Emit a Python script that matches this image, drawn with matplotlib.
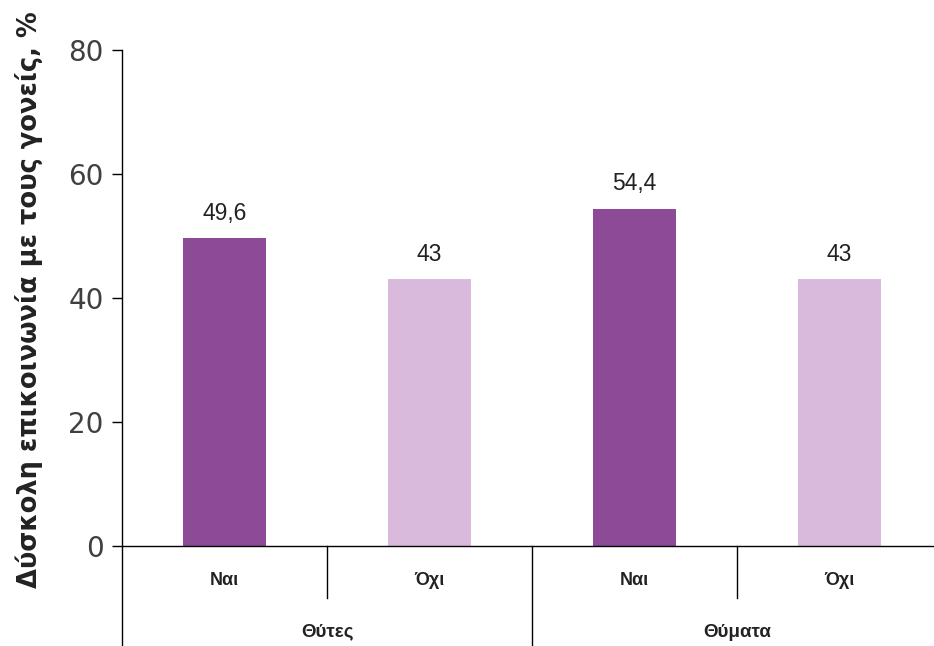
import matplotlib.pyplot as plt

plt.rcParams['font.family'] = ['Liberation Sans', 'DejaVu Sans']

# data
groups = ['Θύτες', 'Θύματα']
answers = ['Ναι', 'Όχι', 'Ναι', 'Όχι']
values = [49.6, 43, 54.4, 43]
value_labels = ['49,6', '43', '54,4', '43']
colors = ['#8C4A97', '#DABADC', '#8C4A97', '#DABADC']

fig = plt.figure(figsize=(9.34, 6.46), dpi=100)
ax = fig.add_axes([122 / 934, 0.0, 1 - 122 / 934, 596 / 646])

x = list(range(len(values)))
ax.bar(x, values, width=0.405, color=colors, zorder=2)

for xi, v, lbl in zip(x, values, value_labels):
    ax.text(xi, v + 4.0, lbl, ha='center', va='center', fontsize=16.5, color='#222222')

ax.set_xlim(-0.5, 3.46)
ax.set_ylim(-16.13, 80)
ax.set_yticks([0, 20, 40, 60, 80])
ax.tick_params(axis='y', direction='out', length=7.2, width=1, labelsize=20,
               labelcolor='#404040', pad=6)
for t in ax.get_yticklabels():
    t.set_family('DejaVu Sans')
ax.set_xticks([])
for s in ['top', 'right', 'bottom']:
    ax.spines[s].set_visible(False)
ax.spines['left'].set_linewidth(1)

# x axis line at 0
ax.axhline(0, color='black', lw=1, zorder=3)

# category separators
ax.plot([0.5, 0.5], [0, -8.4], color='black', lw=1)
ax.plot([2.5, 2.5], [0, -8.4], color='black', lw=1)
ax.plot([1.5, 1.5], [0, -16.13], color='black', lw=1)

for xi, a in zip(x, answers):
    ax.text(xi, -5.5, a, ha='center', va='center', fontsize=13, fontweight='bold',
            color='#222222')
for gi, g in enumerate(groups):
    ax.text(0.5 + 2 * gi, -13.9, g, ha='center', va='center', fontsize=13.5,
            fontweight='bold', color='#222222')

fig.text(29 / 934, 1 - 300 / 646, 'Δύσκολη επικοινωνία με τους γονείς, %', rotation=90,
         ha='center', va='center', fontsize=18.5, fontweight='bold', color='#222222',
         family=['DejaVu Sans'])

fig.savefig('out.png', dpi=100)
